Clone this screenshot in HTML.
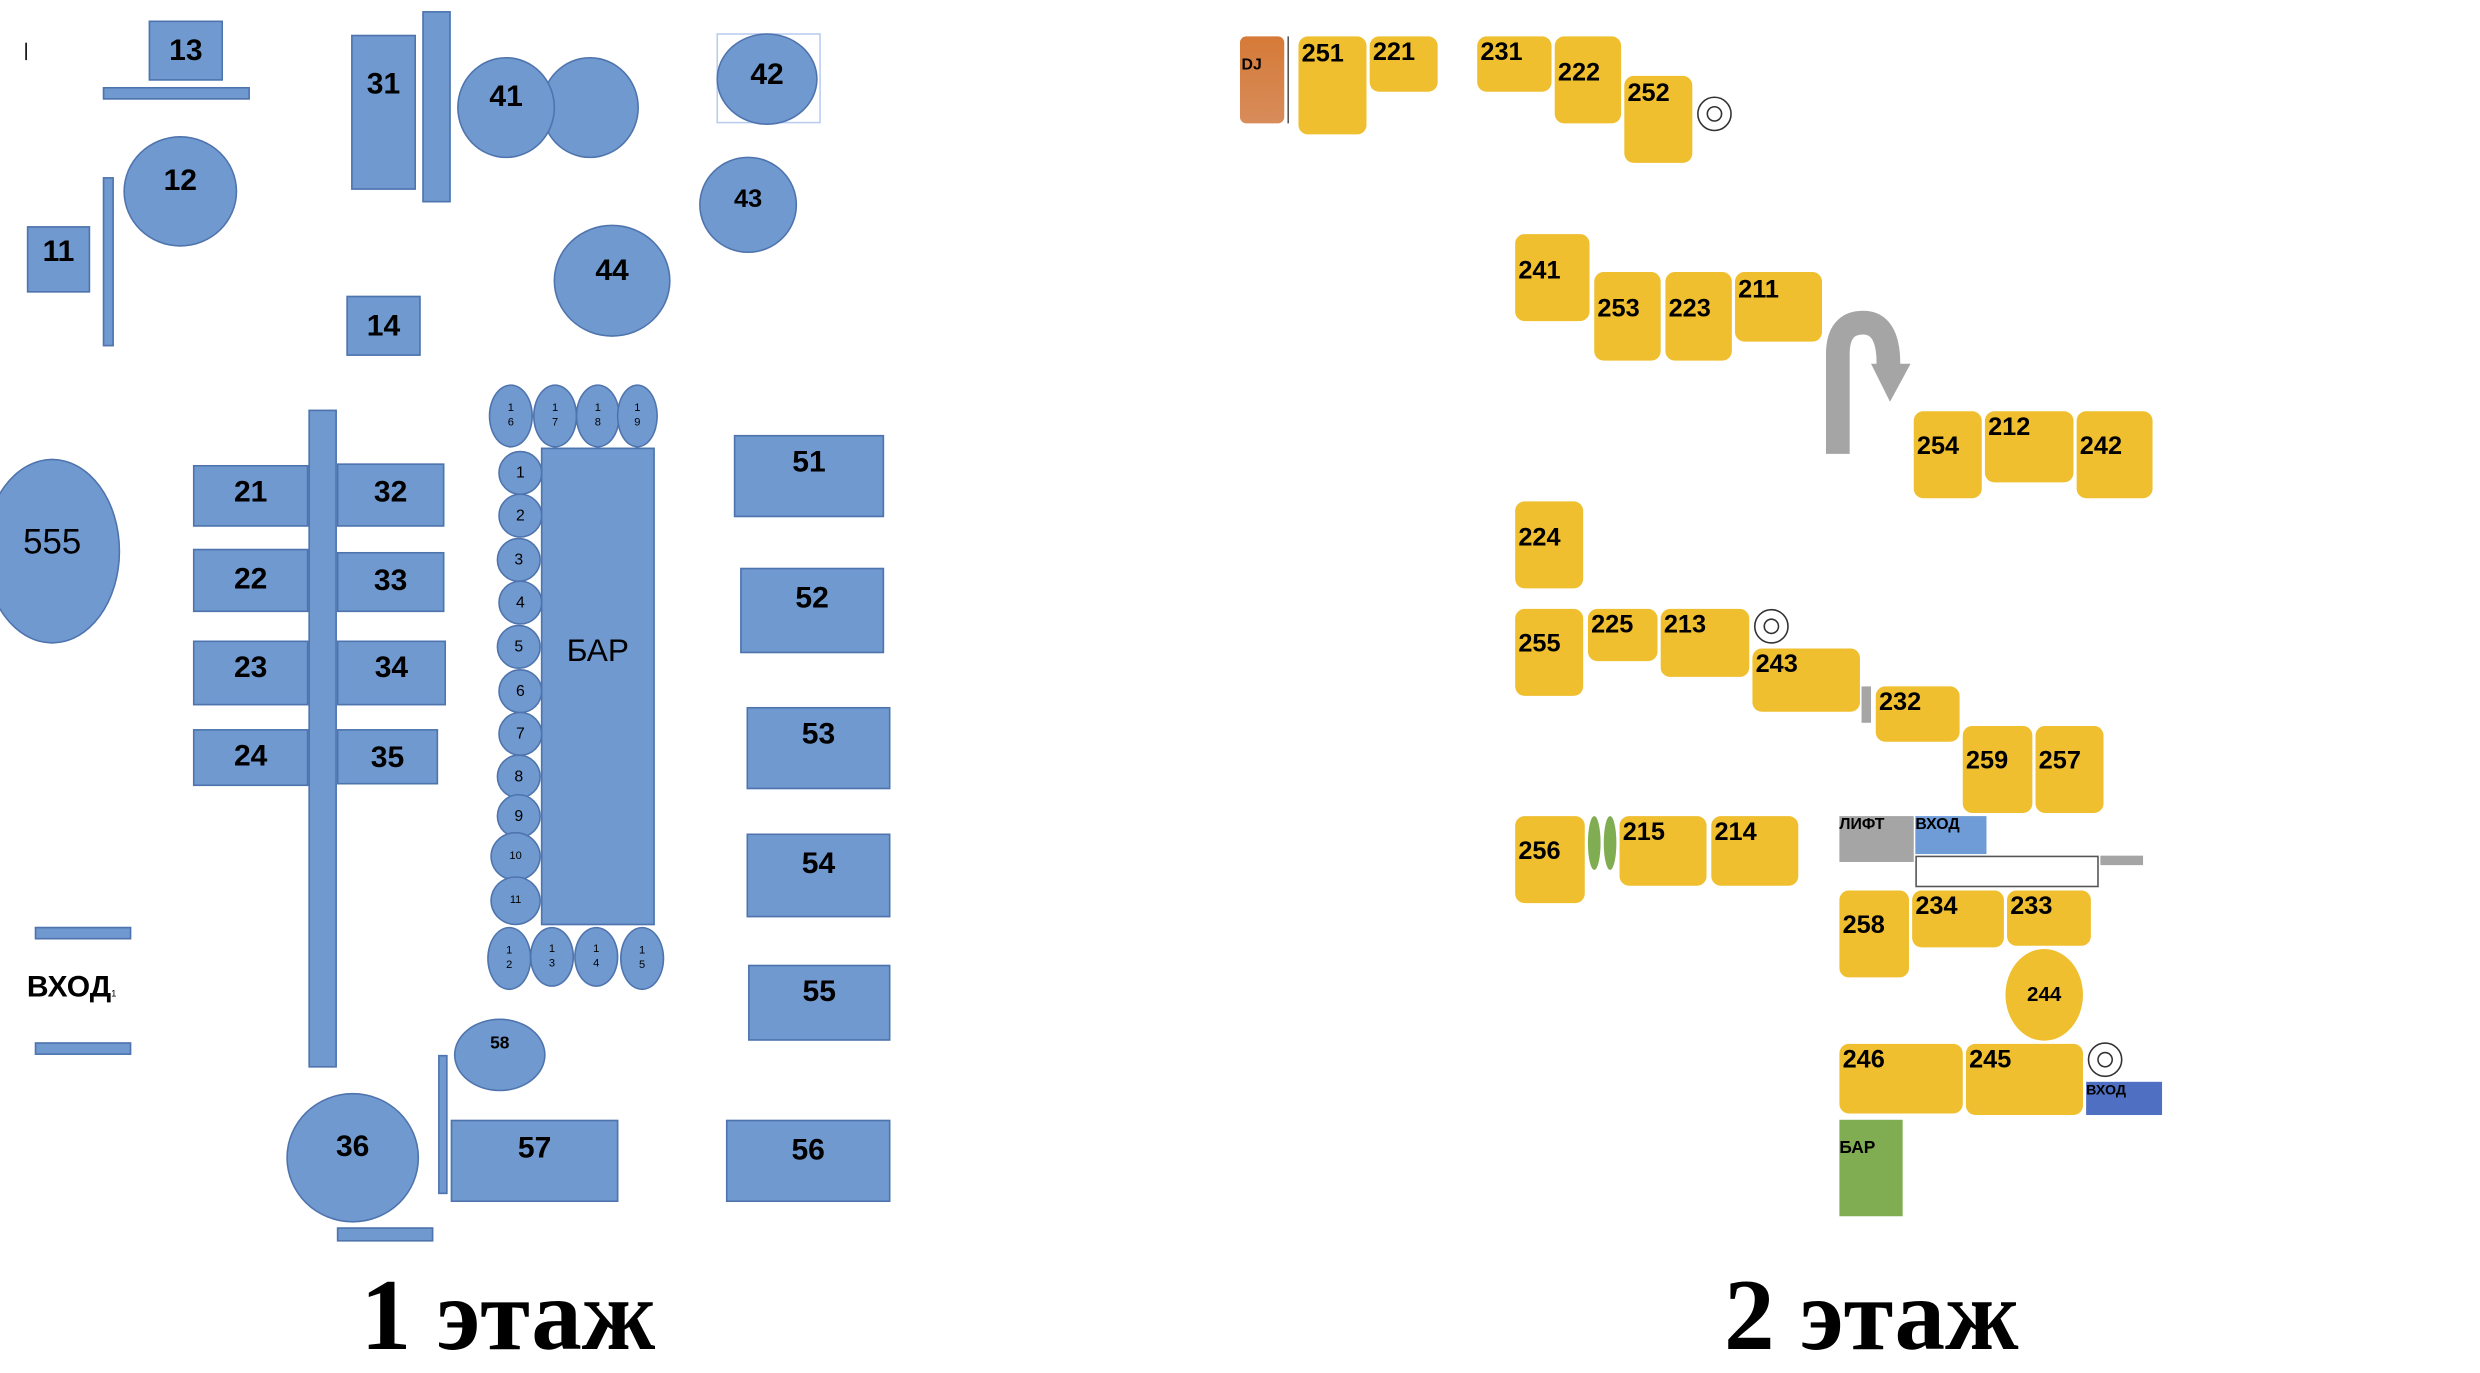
<!DOCTYPE html>
<html><head><meta charset="utf-8"><style>
html,body{margin:0;padding:0;background:#fff;overflow:hidden}
#c{position:absolute;left:0;top:0;width:1568px;height:868px;transform:scale(1.5816);transform-origin:0 0;font-family:"Liberation Sans",sans-serif}
.b{position:absolute;background:#7099d0;border:1px solid #4f74ad;box-sizing:border-box}
.o{border-radius:50%}
.b span,.y span{position:absolute;left:0;right:0;text-align:center;line-height:22px;font-size:19px;font-weight:bold;color:#000}
.y{position:absolute;background:#efbf2f;border-radius:6px}
.y span{text-align:left;left:2px;font-size:16px;line-height:20px}
.s{position:absolute;background:#7099d0;border:1px solid #4f74ad;box-sizing:border-box;border-radius:50%;font-size:7px;text-align:center;line-height:9px;display:flex;align-items:center;justify-content:center;flex-direction:column}
.t{position:absolute;font-family:"Liberation Serif",serif;font-weight:bold;font-size:64px;line-height:70px}
.tg{position:absolute;width:22px;height:22px;border:1px solid #333;border-radius:50%;box-sizing:border-box}
.tg:after{content:"";position:absolute;left:5px;top:5px;width:10px;height:10px;border:1px solid #333;border-radius:50%;box-sizing:border-box}
</style></head><body><div id="c">
<div style="position:absolute;left:16px;top:27px;width:1px;height:11px;background:#000"></div>
<div class="b" style="left:94px;top:13px;width:47px;height:38px"><span style="top:8px">13</span></div>
<div class="b" style="left:65px;top:55px;width:93px;height:8px"></div>
<div class="b o" style="left:78px;top:86px;width:72px;height:70px"><span style="top:17px">12</span></div>
<div class="b" style="left:65px;top:112px;width:7px;height:107px"></div>
<div class="b" style="left:17px;top:143px;width:40px;height:42px"><span style="top:5px">11</span></div>
<div class="b" style="left:222px;top:22px;width:41px;height:98px"><span style="top:20px">31</span></div>
<div class="b" style="left:267px;top:7px;width:18px;height:121px"></div>
<div class="b o" style="left:342px;top:36px;width:62px;height:64px"></div>
<div class="b o" style="left:289px;top:36px;width:62px;height:64px"><span style="top:14px">41</span></div>
<div style="position:absolute;left:453px;top:21px;width:66px;height:57px;border:1px solid #b9cdf0;box-sizing:border-box"></div>
<div class="b o" style="left:453px;top:21px;width:64px;height:58px"><span style="top:15px">42</span></div>
<div class="b o" style="left:442px;top:99px;width:62px;height:61px"><span style="top:16px;font-size:16px">43</span></div>
<div class="b o" style="left:350px;top:142px;width:74px;height:71px"><span style="top:18px">44</span></div>
<div class="b" style="left:219px;top:187px;width:47px;height:38px"><span style="top:8px">14</span></div>
<div class="b o" style="left:-10px;top:290px;width:86px;height:117px"><span style="top:41px;font-weight:normal;font-size:22px">555</span></div>
<div class="b" style="left:195px;top:259px;width:18px;height:416px"></div>
<div class="b" style="left:122px;top:294px;width:73px;height:39px"><span style="top:6px">21</span></div>
<div class="b" style="left:213px;top:293px;width:68px;height:40px"><span style="top:7px">32</span></div>
<div class="b" style="left:122px;top:347px;width:73px;height:40px"><span style="top:8px">22</span></div>
<div class="b" style="left:213px;top:349px;width:68px;height:38px"><span style="top:7px">33</span></div>
<div class="b" style="left:122px;top:405px;width:73px;height:41px"><span style="top:6px">23</span></div>
<div class="b" style="left:213px;top:405px;width:69px;height:41px"><span style="top:6px">34</span></div>
<div class="b" style="left:122px;top:461px;width:73px;height:36px"><span style="top:6px">24</span></div>
<div class="b" style="left:213px;top:461px;width:64px;height:35px"><span style="top:7px">35</span></div>
<div class="b" style="left:342px;top:283px;width:72px;height:302px"><span style="top:117px;font-weight:normal;font-size:20px">БАР</span></div>
<div class="s" style="left:309px;top:243px;width:28px;height:40px"><div>1</div><div>6</div></div>
<div class="s" style="left:337px;top:243px;width:28px;height:40px"><div>1</div><div>7</div></div>
<div class="s" style="left:364px;top:243px;width:28px;height:40px"><div>1</div><div>8</div></div>
<div class="s" style="left:390px;top:243px;width:26px;height:40px"><div>1</div><div>9</div></div>
<div class="s" style="left:315px;top:285px;width:28px;height:28px;font-size:10px">1</div>
<div class="s" style="left:315px;top:312px;width:28px;height:28px;font-size:10px">2</div>
<div class="s" style="left:314px;top:340px;width:28px;height:28px;font-size:10px">3</div>
<div class="s" style="left:315px;top:367px;width:28px;height:28px;font-size:10px">4</div>
<div class="s" style="left:314px;top:395px;width:28px;height:28px;font-size:10px">5</div>
<div class="s" style="left:315px;top:423px;width:28px;height:28px;font-size:10px">6</div>
<div class="s" style="left:315px;top:450px;width:28px;height:28px;font-size:10px">7</div>
<div class="s" style="left:314px;top:477px;width:28px;height:28px;font-size:10px">8</div>
<div class="s" style="left:314px;top:502px;width:28px;height:28px;font-size:10px">9</div>
<div class="s" style="left:310px;top:526px;width:32px;height:31px">10</div>
<div class="s" style="left:310px;top:554px;width:32px;height:31px">11</div>
<div class="s" style="left:308px;top:586px;width:28px;height:40px"><div>1</div><div>2</div></div>
<div class="s" style="left:335px;top:586px;width:28px;height:38px"><div>1</div><div>3</div></div>
<div class="s" style="left:363px;top:586px;width:28px;height:38px"><div>1</div><div>4</div></div>
<div class="s" style="left:392px;top:586px;width:28px;height:40px"><div>1</div><div>5</div></div>
<div class="b" style="left:464px;top:275px;width:95px;height:52px"><span style="top:6px">51</span></div>
<div class="b" style="left:468px;top:359px;width:91px;height:54px"><span style="top:8px">52</span></div>
<div class="b" style="left:472px;top:447px;width:91px;height:52px"><span style="top:6px">53</span></div>
<div class="b" style="left:472px;top:527px;width:91px;height:53px"><span style="top:8px">54</span></div>
<div class="b" style="left:473px;top:610px;width:90px;height:48px"><span style="top:6px">55</span></div>
<div class="b" style="left:459px;top:708px;width:104px;height:52px"><span style="top:8px">56</span></div>
<div class="b" style="left:22px;top:586px;width:61px;height:8px"></div>
<div class="b" style="left:22px;top:659px;width:61px;height:8px"></div>
<div style="position:absolute;left:17px;top:613px;font-weight:bold;font-size:19px;line-height:24px">ВХОД<span style="font-size:6px;font-weight:normal">1</span></div>
<div class="b o" style="left:287px;top:644px;width:58px;height:46px"><span style="top:8px;font-size:11px;line-height:14px">58</span></div>
<div class="b" style="left:277px;top:667px;width:6px;height:88px"></div>
<div class="b" style="left:285px;top:708px;width:106px;height:52px"><span style="top:7px">57</span></div>
<div class="b o" style="left:181px;top:691px;width:84px;height:82px"><span style="top:23px">36</span></div>
<div class="b" style="left:213px;top:776px;width:61px;height:9px"></div>
<div class="t" style="left:228px;top:797px">1 этаж</div>

<div style="position:absolute;left:784px;top:23px;width:28px;height:55px;border-radius:4px;background:linear-gradient(#d67a38,#d78c5a)"><span style="position:absolute;left:1px;top:13px;font-size:10px;font-weight:bold">DJ</span></div>
<div style="position:absolute;left:814px;top:23px;width:1px;height:55px;background:#555"></div>
<div class="y" style="left:821px;top:23px;width:43px;height:62px"><span style="top:2px">251</span></div>
<div class="y" style="left:866px;top:23px;width:43px;height:35px"><span style="top:1px">221</span></div>
<div class="y" style="left:934px;top:23px;width:47px;height:35px"><span style="top:1px">231</span></div>
<div class="y" style="left:983px;top:23px;width:42px;height:55px"><span style="top:14px">222</span></div>
<div class="y" style="left:1027px;top:48px;width:43px;height:55px"><span style="top:2px">252</span></div>
<div class="tg" style="left:1073px;top:61px"></div>
<div class="y" style="left:958px;top:148px;width:47px;height:55px"><span style="top:14px">241</span></div>
<div class="y" style="left:1008px;top:172px;width:42px;height:56px"><span style="top:14px">253</span></div>
<div class="y" style="left:1053px;top:172px;width:42px;height:56px"><span style="top:14px">223</span></div>
<div class="y" style="left:1097px;top:172px;width:55px;height:44px"><span style="top:2px">211</span></div>
<svg style="position:absolute;left:1150px;top:190px" width="65" height="100"><path d="M12 97 V34 Q12 14 28 14 Q44 14 44 40 V46" fill="none" stroke="#a5a5a5" stroke-width="15"/><path d="M33 40 L58 40 L45 64 Z" fill="#a5a5a5"/></svg>
<div class="y" style="left:1210px;top:260px;width:43px;height:55px"><span style="top:13px">254</span></div>
<div class="y" style="left:1255px;top:260px;width:56px;height:45px"><span style="top:1px">212</span></div>
<div class="y" style="left:1313px;top:260px;width:48px;height:55px"><span style="top:13px">242</span></div>
<div class="y" style="left:958px;top:317px;width:43px;height:55px"><span style="top:14px">224</span></div>
<div class="y" style="left:958px;top:385px;width:43px;height:55px"><span style="top:13px">255</span></div>
<div class="y" style="left:1004px;top:385px;width:44px;height:33px"><span style="top:1px">225</span></div>
<div class="y" style="left:1050px;top:385px;width:56px;height:43px"><span style="top:1px">213</span></div>
<div class="tg" style="left:1109px;top:385px"></div>
<div class="y" style="left:1108px;top:410px;width:68px;height:40px"><span style="top:1px">243</span></div>
<div style="position:absolute;left:1177px;top:434px;width:6px;height:23px;background:#a5a5a5"></div>
<div class="y" style="left:1186px;top:434px;width:53px;height:35px"><span style="top:1px">232</span></div>
<div class="y" style="left:1241px;top:459px;width:44px;height:55px"><span style="top:13px">259</span></div>
<div class="y" style="left:1287px;top:459px;width:43px;height:55px"><span style="top:13px">257</span></div>
<div class="y" style="left:958px;top:516px;width:44px;height:55px"><span style="top:13px">256</span></div>
<div style="position:absolute;left:1004px;top:516px;width:8px;height:34px;border-radius:50%;background:#80ad52"></div>
<div style="position:absolute;left:1014px;top:516px;width:8px;height:34px;border-radius:50%;background:#80ad52"></div>
<div class="y" style="left:1024px;top:516px;width:55px;height:44px"><span style="top:1px">215</span></div>
<div class="y" style="left:1082px;top:516px;width:55px;height:44px"><span style="top:1px">214</span></div>
<div style="position:absolute;left:1163px;top:516px;width:47px;height:29px;background:#a5a5a5;font-size:10px;font-weight:bold;line-height:12px">ЛИФТ</div>
<div style="position:absolute;left:1211px;top:516px;width:45px;height:24px;background:#6f9bd6;font-size:10px;font-weight:bold;line-height:12px">ВХОД</div>
<div style="position:absolute;left:1211px;top:541px;width:116px;height:20px;border:1px solid #555;box-sizing:border-box;background:#fff"></div>
<div style="position:absolute;left:1328px;top:541px;width:27px;height:6px;background:#a5a5a5"></div>
<div class="y" style="left:1163px;top:563px;width:44px;height:55px"><span style="top:13px">258</span></div>
<div class="y" style="left:1209px;top:563px;width:58px;height:36px"><span style="top:1px">234</span></div>
<div class="y" style="left:1269px;top:563px;width:53px;height:35px"><span style="top:1px">233</span></div>
<div style="position:absolute;left:1268px;top:600px;width:49px;height:58px;border-radius:50%;background:#efbf2f;font-size:13px;font-weight:bold;line-height:58px;text-align:center">244</div>
<div class="y" style="left:1163px;top:660px;width:78px;height:44px"><span style="top:1px">246</span></div>
<div class="y" style="left:1243px;top:660px;width:74px;height:45px"><span style="top:1px">245</span></div>
<div class="tg" style="left:1320px;top:659px"></div>
<div style="position:absolute;left:1319px;top:684px;width:48px;height:21px;background:#4f6fc2;font-size:9px;font-weight:bold;line-height:10px">ВХОД</div>
<div style="position:absolute;left:1163px;top:708px;width:40px;height:61px;background:#80ad52;font-size:11px;font-weight:bold;padding-top:12px;box-sizing:border-box">БАР</div>
<div class="t" style="left:1090px;top:797px">2 этаж</div>
</div></body></html>
